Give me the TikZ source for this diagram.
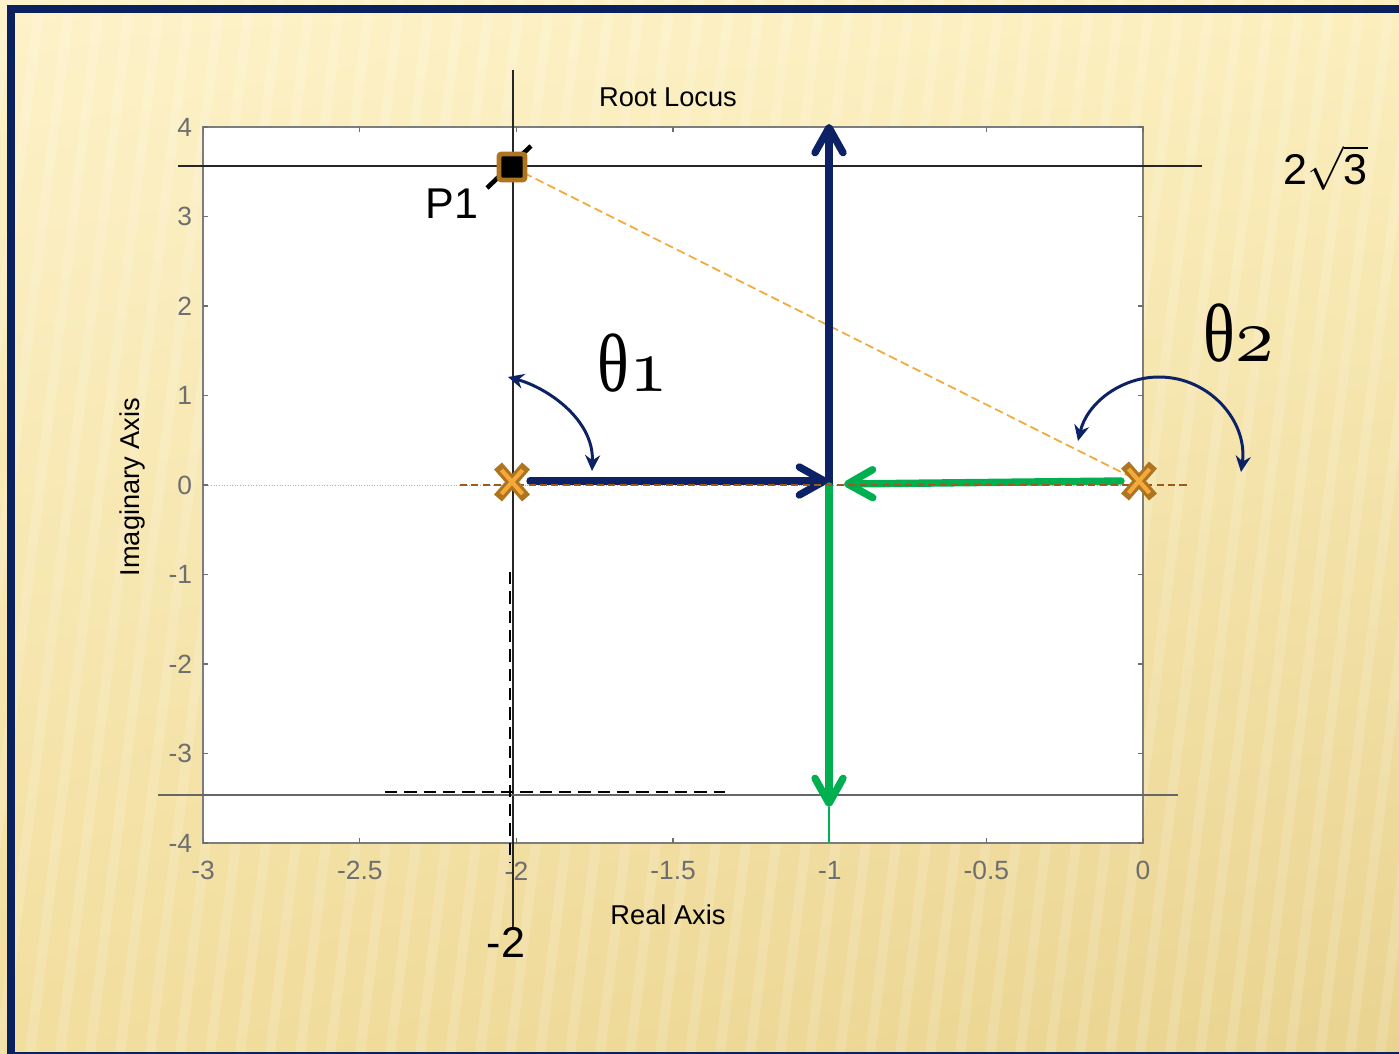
\documentclass[tikz,border=0pt]{standalone}
\usepackage{fontspec}
\setmainfont{Liberation Sans}
\newfontfamily\greekfont{Liberation Serif}
\usepackage{graphicx}
\usepackage{tikz}
\usetikzlibrary{arrows.meta, positioning, shadings}
\usepackage{xcolor}
\definecolor{mNavy}{HTML}{0C2264}
\definecolor{mFrame}{HTML}{0A2160}
\definecolor{mGreen}{HTML}{00B050}
\definecolor{mBrown}{HTML}{AE741F}
\definecolor{mAmber}{HTML}{F4A93A}
\definecolor{mRust}{HTML}{9E5A1C}
\definecolor{mTick}{HTML}{6E6E6E}
\definecolor{mCreamA}{HTML}{FDF2C9}
\definecolor{mCreamB}{HTML}{FCEFBE}
\definecolor{mCreamC}{HTML}{F2DE9E}
\definecolor{mCreamD}{HTML}{E9D390}
\newcommand{\oldnum}[1]{\scalebox{4.4}{\fontsize{10}{12}\usefont{OML}{cmm}{m}{it}#1}}
\newcommand{\anglelab}[1]{{\fontsize{47}{50}\selectfont\scalebox{0.8}[1]{\greekfont θ}}\oldnum{#1}}

\begin{document}
\begin{tikzpicture}[x=0.02cm, y=-0.02cm,
  stripe/.style={white, opacity=0.15, line width=0.2cm},
  axisbox/.style={draw=mTick!90, line width=0.9pt, fill=white},
  tickmark/.style={mTick, line width=0.7pt},
  ticklab/.style={text=mTick, font=\fontsize{15}{17}\selectfont, inner sep=0pt},
  axislab/.style={font=\fontsize{15.5}{18}\selectfont, inner sep=0pt},
  bigtxt/.style={font=\fontsize{24.5}{28}\selectfont, inner sep=0pt},
  guide/.style={black!85, line width=0.6pt},
  helper/.style={black, line width=1.1pt, dash pattern=on 7pt off 4pt},
  locus/.style={#1, line width=4.2pt, line cap=round,
                -{Straight Barb[length=0.5cm, width=0.56cm, round]}},
  angarr/.style={mNavy, line width=1.7pt,
                 {Stealth[length=9pt, width=8.5pt]}-{Stealth[length=9pt, width=8.5pt]}},
  p1mark/.style={draw=mBrown, line width=2.8pt, fill=black, minimum size=0.52cm,
                 inner sep=0pt, rounded corners=1.5pt}]
  \useasboundingbox (0,0) rectangle (1399,1054);
  \clip (0,0) rectangle (1399,1054);
  % slide background and frame
  \shade[upper left=mCreamA, upper right=mCreamB, lower left=mCreamC, lower right=mCreamD]
    (0,0) rectangle (1399,1054);
  \foreach \s in {-150,-120,...,1400} \draw[stripe] (\s,1054) -- ++(130,-1054);
  \draw[mFrame, line width=0.16cm] (11,9) rectangle (1404,1056);
  % axes in data units
  \begin{scope}[shift={(1143,485)}, x=6.2667cm, y=1.79cm]
    \draw[axisbox] (-3,-4) rectangle (0,4);
    \draw[black!30, line width=0.5pt, densely dotted] (-3,0) -- (0,0);
    \foreach \xv in {-3,-2.5,-2,-1.5,-1,-0.5,0}
      \draw[tickmark] (\xv,-4) -- ++(0,3pt) (\xv,4) -- ++(0,-3pt);
    \foreach \yv in {-4,...,4}
      \draw[tickmark] (-3,\yv) -- ++(3pt,0) (0,\yv) -- ++(-3pt,0);
    \foreach \xv/\lab [count=\i] in {-3/-3, -2.5/-2.5, -2/-2, -1.5/-1.5, -1/-1, -0.5/-0.5, 0/0}
      \node[ticklab, yshift=-15.9pt] (xtick\i) at (\xv,-4) {\lab};
    \foreach \yv [count=\i] in {-4,...,4}
      \node[ticklab, anchor=east, xshift=-6.2pt] (ytick\i) at (-3,\yv) {\yv};
  \end{scope}
  \node[axislab] (title) at (668,97) {Root Locus};
  \node[axislab] (xlab) at (668,915) {Real Axis};
  \node[axislab, rotate=90] (ylab) at (132,487) {Imaginary Axis};
  % key points
  \coordinate (p1) at (512,167);
  \coordinate (pole1) at (512,482);
  \coordinate (pole2) at (1139,481);
  \coordinate (navyStart) at (530,481);
  \coordinate (navyTip) at (828,481);
  \coordinate (greenStart) at (1121,481);
  \coordinate (greenTip) at (844,484);
  \coordinate (brk) at (829,486);
  \coordinate (upEnd) at (829,124);
  \coordinate (downEnd) at (829,807);
  \coordinate (boxBot) at (829,843);
  % guide lines through P1 and helpers
  \draw[guide] (513,70) -- (513,928);
  \draw[guide] (178,166) -- (1202,166);
  \draw[black!60, line width=0.6pt] (158,795) -- (1178,795);
  \draw[helper] (510,572) -- (510,862);
  \draw[helper] (385,792) -- (725,792);
  \draw[mAmber, line width=1pt, dash pattern=on 5pt off 2.5pt] (p1) -- (pole2);
  % root locus branches
  \draw[locus=mNavy] (brk) -- (upEnd);
  \draw[locus=mGreen] (brk) -- (downEnd);
  \draw[mGreen, line width=0.8pt] (downEnd) -- (boxBot);
  \draw[locus=mNavy] (navyStart) -- (navyTip);
  \draw[locus=mGreen] (greenStart) -- (greenTip);
  \draw[mRust, line width=1.3pt, dash pattern=on 4pt off 2.5pt] (460,485) -- (1187,485);
  % open-loop poles
  \foreach \p in {pole1, pole2} {
    \draw[mBrown, line width=6pt]
      ([shift={(-14,-16)}]\p) -- ([shift={(14,16)}]\p)
      ([shift={(-14,16)}]\p) -- ([shift={(14,-16)}]\p);
    \draw[mAmber, line width=2.4pt]
      ([shift={(-10.5,-12)}]\p) -- ([shift={(10.5,12)}]\p)
      ([shift={(-10.5,12)}]\p) -- ([shift={(10.5,-12)}]\p);
  }
  % test point P1
  \draw[black, line width=2.6pt] (487,188) -- (531,146);
  \node[p1mark] (p1box) at (p1) {};
  \node[bigtxt] (p1lab) at (452,204) {P1};
  \node[bigtxt] (minus2) at (506,942) {-2};
  \node[bigtxt, anchor=base west] (root3) at (1283,185) {2$\sqrt{\mbox{3}}$};
  % angle arrows
  \coordinate (a1s) at (508,377);
  \coordinate (a1e) at (592,471);
  \draw[angarr] (a1s) .. controls (548,388) and (594,420) .. (a1e);
  \coordinate (a2s) at (1078,441);
  \coordinate (a2m) at (1159,377);
  \coordinate (a2e) at (1241,472);
  \draw[angarr] (a2s) .. controls (1087,403) and (1121,377) .. (a2m)
                      .. controls (1210,377) and (1248,422) .. (a2e);
  \node[anchor=base west, inner sep=0pt] (th1) at (597,391) {\anglelab{1}};
  \node[anchor=base west, inner sep=0pt] (th2) at (1203,361) {\anglelab{2}};
\end{tikzpicture}
\end{document}
